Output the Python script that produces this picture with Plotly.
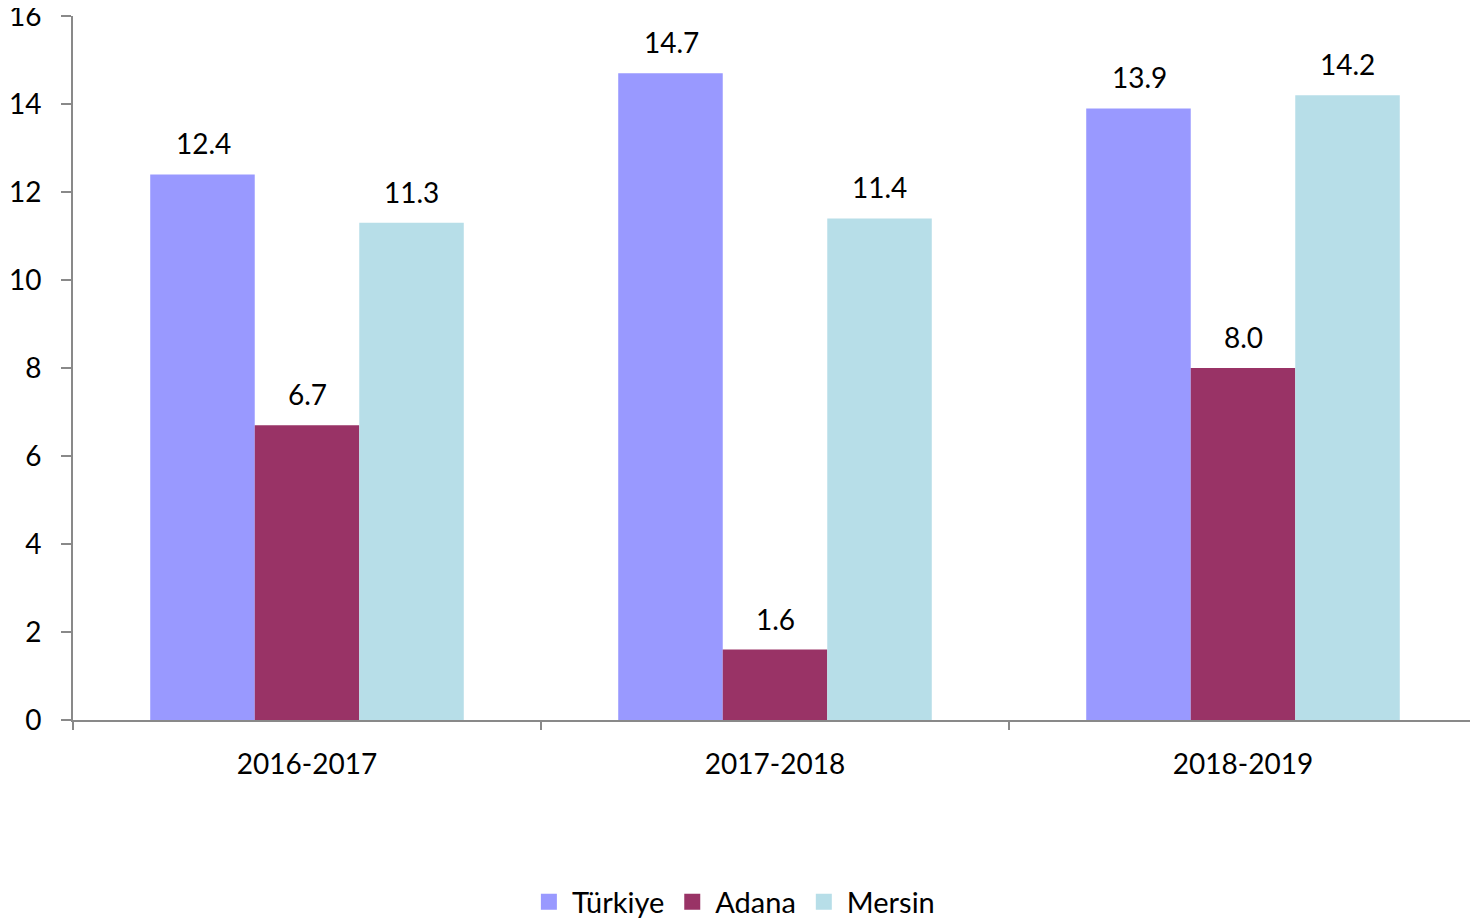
import plotly.graph_objects as go

# academic years on the x axis
years = ["2016-2017", "2017-2018", "2018-2019"]

# series values
turkiye = [12.4, 14.7, 13.9]
adana = [6.7, 1.6, 8.0]
mersin = [11.3, 11.4, 14.2]

series_names = ["Türkiye", "Adana", "Mersin"]
series_colors = ["#9999FF", "#993366", "#B7DEE8"]

y_ticks = [0, 2, 4, 6, 8, 10, 12, 14, 16]

FONT = "Lato"
AXIS_GRAY = "#898989"
BAR_PX = 104  # width of one bar in the group, used to shift the labels

fig = go.Figure()
all_series = [turkiye, adana, mersin]
for i, (name, vals, color) in enumerate(zip(series_names, all_series, series_colors)):
    fig.add_trace(
        go.Bar(
            x=years,
            y=vals,
            name=name,
            marker=dict(color=color, line=dict(width=0)),
            showlegend=False,
        )
    )
    # legend entry with a bigger square swatch
    fig.add_trace(
        go.Scatter(
            x=[None],
            y=[None],
            mode="markers",
            name=name,
            marker=dict(symbol="square", size=16, color=color),
            showlegend=True,
        )
    )
    # value labels above bars
    for yr, v in zip(years, vals):
        fig.add_annotation(
            x=yr,
            y=v,
            xref="x",
            yref="y",
            text=f"{v:.1f}",
            showarrow=False,
            xshift=(i - 1) * BAR_PX,
            yshift=12,
            yanchor="bottom",
            font=dict(size=28, family=FONT, color="#000000"),
        )

# the page body has an 8px margin, so the figure is a bit smaller than the window
fig.update_layout(
    width=1470,
    height=914,
    barmode="group",
    bargap=0.33,
    bargroupgap=0,
    plot_bgcolor="white",
    paper_bgcolor="white",
    font=dict(family=FONT, size=28, color="#000000"),
    margin=dict(l=65, r=1, t=8, b=202),
    showlegend=True,
    legend=dict(
        orientation="h",
        x=0.47,
        xanchor="center",
        yref="container",
        y=0.022,
        yanchor="middle",
        font=dict(size=29, family=FONT),
        itemsizing="trace",
        itemwidth=36,
        traceorder="normal",
    ),
)

fig.update_xaxes(
    showline=True,
    linecolor=AXIS_GRAY,
    linewidth=2,
    ticks="outside",
    tickson="boundaries",
    ticklen=8,
    tickcolor=AXIS_GRAY,
    tickwidth=2,
    showgrid=False,
    automargin=False,
    ticklabelstandoff=18,
    tickfont=dict(size=28, family=FONT),
)

fig.update_yaxes(
    range=[0, 16],
    tickvals=y_ticks,
    showline=True,
    linecolor=AXIS_GRAY,
    linewidth=2,
    ticks="outside",
    ticklen=10,
    tickcolor=AXIS_GRAY,
    tickwidth=2,
    showgrid=False,
    zeroline=False,
    automargin=False,
    ticklabeloverflow="allow",
    ticklabelstandoff=14,
    tickfont=dict(size=28, family=FONT),
)

fig.write_html("out.html")
